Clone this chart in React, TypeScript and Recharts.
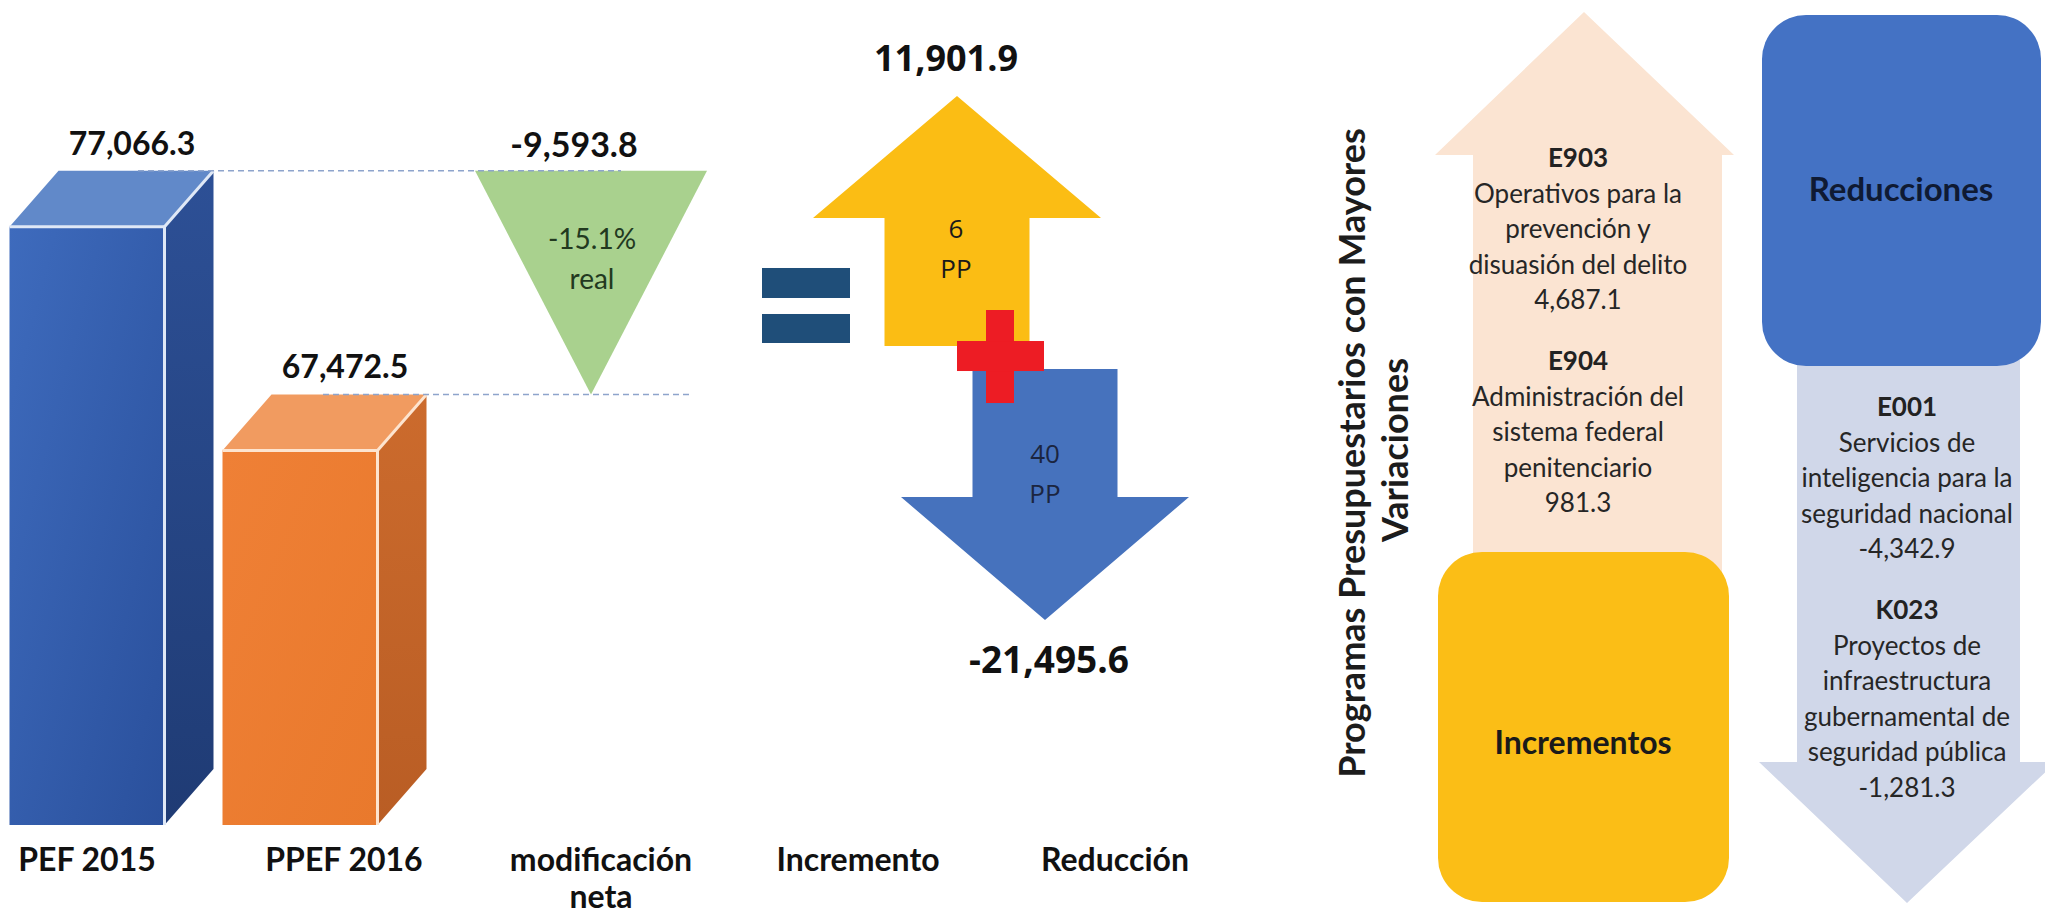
import React from 'react';
import { ComposedChart, Bar, Scatter, XAxis, YAxis, Customized } from 'recharts';

// ---------- data ----------
const categories = ['PEF 2015', 'PPEF 2016', 'modificación neta', 'Incremento', 'Reducción'];
const budgetValues = [77066.3, 67472.5]; // PEF 2015, PPEF 2016
const netChange = -9593.8;
const realChangePct = -15.1;
const flowValues = [11901.9, -21495.6]; // increments, reductions
const programCounts = [6, 40];

const increaseCodes = ['E903', 'E904'];
const increaseNames = [
  ['Operativos para la', 'prevención y', 'disuasión del delito'],
  ['Administración del', 'sistema federal', 'penitenciario'],
];
const increaseAmounts = [4687.1, 981.3];

const reductionCodes = ['E001', 'K023'];
const reductionNames = [
  ['Servicios de', 'inteligencia para la', 'seguridad nacional'],
  ['Proyectos de', 'infraestructura', 'gubernamental de', 'seguridad pública'],
];
const reductionAmounts = [-4342.9, -1281.3];

const panelTitle = ['Programas Presupuestarios con Mayores', 'Variaciones'];
const panelHeads = ['Incrementos', 'Reducciones'];

const fmt = (v: number) =>
  v.toLocaleString('en-US', { minimumFractionDigits: 1, maximumFractionDigits: 1 });

const rows = [
  { name: categories[0], kind: 'box', value: budgetValues[0] },
  { name: categories[1], kind: 'box', value: budgetValues[1] },
  { name: categories[2], kind: 'drop', value: [budgetValues[1], budgetValues[0]], change: netChange, pct: realChangePct },
  { name: categories[3], kind: 'flow', flow: flowValues[0], pp: programCounts[0] },
  { name: categories[4], kind: 'flow', flow: flowValues[1], pp: programCounts[1] },
];

// ---------- styles ----------
const CONDENSED = 'Lato, sans-serif';
const WIDE = '"Open Sans", sans-serif';
const BOX_DX = 49;
const BOX_DY = 56;
const boxShift = [0, -44];
const boxColors = [
  { f1: '#3e6bbd', f2: '#2a509c', s1: '#2d5096', s2: '#1f3b74', top: '#6189c9', edge: '#dfe8f6' },
  { f1: '#ef8036', f2: '#e9792c', s1: '#cc6b2d', s2: '#b95d24', top: '#f19b60', edge: '#fde4cf' },
];

function BarShape(props: any) {
  const { x, y, width, height, payload, index } = props;
  if (!payload || x == null || isNaN(y)) return <g />;
  if (payload.kind === 'box') {
    const c = boxColors[index] || boxColors[0];
    const bx = x + (boxShift[index] || 0);
    const w = width;
    const top = y;
    const bot = y + height;
    const id = `bx${index}`;
    return (
      <g>
        <defs>
          <linearGradient id={`${id}f`} x1="0" y1="0" x2="1" y2="1">
            <stop offset="0" stopColor={c.f1} />
            <stop offset="1" stopColor={c.f2} />
          </linearGradient>
          <linearGradient id={`${id}s`} x1="0" y1="0" x2="0" y2="1">
            <stop offset="0" stopColor={c.s1} />
            <stop offset="1" stopColor={c.s2} />
          </linearGradient>
        </defs>
        <rect x={bx} y={top} width={w} height={bot - top} fill={`url(#${id}f)`} />
        <polygon
          points={`${bx},${top} ${bx + BOX_DX},${top - BOX_DY} ${bx + w + BOX_DX},${top - BOX_DY} ${bx + w},${top}`}
          fill={c.top}
        />
        <polygon
          points={`${bx + w},${top} ${bx + w + BOX_DX},${top - BOX_DY} ${bx + w + BOX_DX},${bot - BOX_DY} ${bx + w},${bot}`}
          fill={`url(#${id}s)`}
        />
        <polyline
          points={`${bx},${top} ${bx + w},${top} ${bx + w},${bot}`}
          fill="none"
          stroke={c.edge}
          strokeWidth={3}
        />
        <line x1={bx + w} y1={top} x2={bx + w + BOX_DX} y2={top - BOX_DY} stroke={c.edge} strokeWidth={3} />
        <text
          x={bx + w / 2 + 45}
          y={top - 72}
          textAnchor="middle"
          fontFamily={CONDENSED}
          fontWeight={700}
          fontSize={32}
          fill="#111"
        >
          {fmt(payload.value)}
        </text>
      </g>
    );
  }
  if (payload.kind === 'drop') {
    const cx = x + width / 2 - 10;
    const t = y - BOX_DY;
    const b = y + height - BOX_DY;
    return (
      <g>
        <polygon points={`${cx - 116},${t} ${cx + 116},${t} ${cx},${b}`} fill="#a9d18e" />
        <line x1={cx - 453} y1={t} x2={cx + 30} y2={t} stroke="#8ea4cc" strokeWidth={1.5} strokeDasharray="6 4" />
        <line x1={cx - 268} y1={b} x2={cx + 98} y2={b} stroke="#8ea4cc" strokeWidth={1.5} strokeDasharray="6 4" />
        <text x={cx - 17} y={t - 14} textAnchor="middle" fontFamily={CONDENSED} fontWeight={700} fontSize={34} fill="#111">
          {fmt(payload.change)}
        </text>
        <text x={cx + 1} y={t + 78} textAnchor="middle" fontFamily={CONDENSED} fontSize={28} fill="#22391f">
          {`${payload.pct.toFixed(1)}%`}
        </text>
        <text x={cx + 1} y={t + 118} textAnchor="middle" fontFamily={CONDENSED} fontSize={28} fill="#22391f">
          real
        </text>
      </g>
    );
  }
  return <g />;
}

function ArrowShape(props: any) {
  const { cx, cy, payload } = props;
  if (!payload || payload.flow == null || isNaN(cy)) return <g />;
  const up = payload.flow > 0;
  const headH = 122;
  const L = 250;
  const headHalf = 144;
  const shaftHalf = 72.5;
  if (up) {
    const c = cx + 99;
    const t = cy;
    const pts = [
      [c, t],
      [c + headHalf, t + headH],
      [c + shaftHalf, t + headH],
      [c + shaftHalf, t + L],
      [c - shaftHalf, t + L],
      [c - shaftHalf, t + headH],
      [c - headHalf, t + headH],
    ]
      .map((p) => p.join(','))
      .join(' ');
    return (
      <g>
        <polygon points={pts} fill="#fbbd14" />
        {/* equals sign */}
        <rect x={c - 195} y={t + 172} width={88} height={30} fill="#1f4e79" />
        <rect x={c - 195} y={t + 218} width={88} height={29} fill="#1f4e79" />
        <text x={c - 11} y={t - 25} textAnchor="middle" fontFamily={WIDE} fontWeight={700} fontSize={36} fill="#111">
          {fmt(payload.flow)}
        </text>
        <text x={c - 1} y={t + 142} textAnchor="middle" fontFamily={WIDE} fontSize={26} fill="#1a1a1a">
          {payload.pp}
        </text>
        <text x={c - 1} y={t + 182} textAnchor="middle" fontFamily={WIDE} fontSize={26} fill="#1a1a1a">
          PP
        </text>
      </g>
    );
  }
  const c = cx - 70;
  const tip = cy;
  const top = tip - L - 1;
  const hb = tip - headH - 1;
  const pts = [
    [c - shaftHalf, top],
    [c + shaftHalf, top],
    [c + shaftHalf, hb],
    [c + headHalf, hb],
    [c, tip],
    [c - headHalf, hb],
    [c - shaftHalf, hb],
  ]
    .map((p) => p.join(','))
    .join(' ');
  const pcx = c - 45;
  const pcy = top - 13;
  return (
    <g>
      <polygon points={pts} fill="#4672bd" />
      {/* plus sign */}
      <rect x={pcx - 14} y={pcy - 46} width={28} height={93} fill="#ed1c24" />
      <rect x={pcx - 43} y={pcy - 15} width={87} height={30} fill="#ed1c24" />
      <text x={c} y={tip - 157} textAnchor="middle" fontFamily={WIDE} fontSize={26} fill="#1b2540">
        {payload.pp}
      </text>
      <text x={c} y={tip - 117} textAnchor="middle" fontFamily={WIDE} fontSize={26} fill="#1b2540">
        PP
      </text>
      <text x={c + 4} y={tip + 53} textAnchor="middle" fontFamily={WIDE} fontWeight={700} fontSize={37} fill="#111">
        {fmt(payload.flow)}
      </text>
    </g>
  );
}

function CategoryTick(props: any) {
  const { x, y, payload } = props;
  const label: string = payload.value;
  const lines = label.length > 12 ? label.split(' ') : [label];
  return (
    <g>
      {lines.map((l, i) => (
        <text
          key={i}
          x={x}
          y={y + 46 + i * 37}
          textAnchor="middle"
          fontFamily={CONDENSED}
          fontWeight={700}
          fontSize={32}
          fill="#111"
        >
          {l}
        </text>
      ))}
    </g>
  );
}

function ProgramText(props: {
  cx: number;
  start: number;
  codes: string[];
  names: string[][];
  amounts: number[];
}) {
  const { cx, start, codes, names, amounts } = props;
  const out: any[] = [];
  let y = start;
  codes.forEach((code, gi) => {
    out.push(
      <text key={`c${gi}`} x={cx} y={y} textAnchor="middle" fontFamily={CONDENSED} fontWeight={700} fontSize={26} fill="#222">
        {code}
      </text>
    );
    names[gi].forEach((ln, li) => {
      y += 35.5;
      out.push(
        <text key={`n${gi}-${li}`} x={cx} y={y} textAnchor="middle" fontFamily={CONDENSED} fontSize={26} fill="#262626">
          {ln}
        </text>
      );
    });
    y += 35.5;
    out.push(
      <text key={`a${gi}`} x={cx} y={y} textAnchor="middle" fontFamily={CONDENSED} fontSize={26} fill="#262626">
        {fmt(amounts[gi])}
      </text>
    );
    y += 61;
  });
  return <g>{out}</g>;
}

function RightPanel() {
  return (
    <g>
      {/* vertical title */}
      <text
        x={1365}
        y={453}
        transform="rotate(-90 1365 453)"
        textAnchor="middle"
        fontFamily={CONDENSED}
        fontWeight={700}
        fontSize={36}
        fill="#1c1c1c"
      >
        {panelTitle[0]}
      </text>
      <text
        x={1408}
        y={450}
        transform="rotate(-90 1408 450)"
        textAnchor="middle"
        fontFamily={CONDENSED}
        fontWeight={700}
        fontSize={36}
        fill="#1c1c1c"
      >
        {panelTitle[1]}
      </text>

      {/* increments: up arrow + box */}
      <polygon
        points="1584,12 1734,155 1722,155 1722,600 1473,600 1473,155 1435,155"
        fill="#fbe4d2"
      />
      <rect x={1438} y={552} width={291} height={350} rx={44} fill="#fbbe16" />
      <text x={1583} y={754} textAnchor="middle" fontFamily={CONDENSED} fontWeight={700} fontSize={32} fill="#1a1a1a">
        {panelHeads[0]}
      </text>
      <ProgramText cx={1578} start={167} codes={increaseCodes} names={increaseNames} amounts={increaseAmounts} />

      {/* reductions: box + down arrow */}
      <polygon
        points="1797,360 2020,360 2020,762 2056,762 1907,903 1759,762 1797,762"
        fill="#d0d7e9"
      />
      <rect x={1762} y={15} width={279} height={351} rx={44} fill="#4472c4" />
      <text x={1901} y={201} textAnchor="middle" fontFamily={CONDENSED} fontWeight={700} fontSize={33} fill="#0f1a33">
        {panelHeads[1]}
      </text>
      <ProgramText cx={1907} start={416} codes={reductionCodes} names={reductionNames} amounts={reductionAmounts} />
    </g>
  );
}

export default function App() {
  return (
    <div style={{ position: 'absolute', left: 0, top: 0, width: 2045, height: 919, background: '#fff' }}>
      <ComposedChart
        width={2045}
        height={919}
        data={rows}
        margin={{ top: 0, right: 801.5, bottom: 0, left: -41.5 }}
      >
        <XAxis
          dataKey="name"
          axisLine={false}
          tickLine={false}
          tickSize={0}
          tickMargin={0}
          height={94}
          interval={0}
          tick={(p: any) => <CategoryTick {...p} />}
        />
        <YAxis yAxisId="main" hide domain={[51400, 86800]} allowDataOverflow />
        <YAxis yAxisId="flow" hide domain={[-34560, 18020]} allowDataOverflow />
        <Bar yAxisId="main" dataKey="value" barSize={155} shape={BarShape} isAnimationActive={false} />
        <Scatter yAxisId="flow" dataKey="flow" shape={ArrowShape} isAnimationActive={false} />
        <Customized component={RightPanel} />
      </ComposedChart>
    </div>
  );
}
